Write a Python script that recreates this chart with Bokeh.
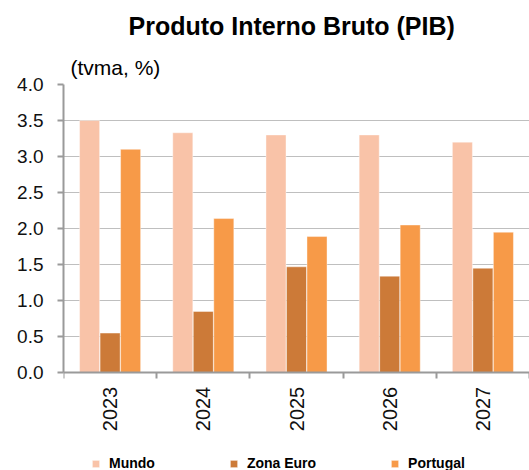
import math
from bokeh.plotting import figure
from bokeh.models import (ColumnDataSource, Range1d, FixedTicker, PrintfTickFormatter,
                          Title, Legend, LegendItem)
from bokeh.core.properties import value
from bokeh.embed import file_html
from bokeh.resources import INLINE

# ---- data ----
years = ["2023", "2024", "2025", "2026", "2027"]
mundo = [3.50, 3.33, 3.30, 3.30, 3.20]
zona_euro = [0.55, 0.85, 1.47, 1.34, 1.45]
portugal = [3.10, 2.14, 1.89, 2.05, 1.95]
series_names = ["Mundo", "Zona Euro", "Portugal"]
colors = ["#F9C3A8", "#CC7A38", "#F79A48"]
y_ticks = [0.0, 0.5, 1.0, 1.5, 2.0, 2.5, 3.0, 3.5, 4.0]
title_text = "Produto Interno Bruto (PIB)"
unit_text = "(tvma, %)"

FONT = "Liberation Sans"
W, H = 529, 470
TOP, LEFT = 83, 63          # frame top / left in px
AXIS_PX = 372               # pixel row of y = 0
Y_MAX = 4.0
px_per_unit = (AXIS_PX - TOP) / Y_MAX
y_start = -(H - AXIS_PX) / px_per_unit   # frame runs to the bottom edge

idx = list(range(len(years)))
bar_w = 0.215
offsets = [-0.22, 0.0, 0.22]

src = ColumnDataSource(dict(
    idx=idx, year=years, zero=[0.0] * len(years),
    x0=[i + offsets[0] for i in idx],
    x1=[i + offsets[1] for i in idx],
    x2=[i + offsets[2] for i in idx],
    mundo=mundo, zona=zona_euro, pt=portugal,
))

p = figure(width=W, height=H, output_backend="svg", toolbar_location=None,
           x_range=Range1d(-0.5, len(years) - 0.5), y_range=Range1d(y_start, Y_MAX),
           x_axis_location="above",
           min_border_left=LEFT, min_border_right=0, min_border_top=TOP, min_border_bottom=0,
           tools="")
p.outline_line_color = None
p.background_fill_color = "white"
p.border_fill_color = "white"

renderers = []
for xcol, ycol, col in zip(["x0", "x1", "x2"], ["mundo", "zona", "pt"], colors):
    r = p.vbar(x=xcol, top=ycol, width=bar_w, source=src, fill_color=col,
               line_color="white", line_width=0.8, line_alpha=0.5)
    renderers.append(r)

# y axis
p.yaxis.bounds = (0, Y_MAX)
p.yaxis.ticker = FixedTicker(ticks=y_ticks)
p.yaxis.formatter = PrintfTickFormatter(format="%.1f")
p.yaxis.axis_line_color = "#9a9a9a"
p.yaxis.axis_line_width = 2
p.yaxis.major_tick_line_color = "#9a9a9a"
p.yaxis.major_tick_line_width = 2
p.yaxis.major_tick_out = 6
p.yaxis.major_tick_in = 0
p.yaxis.minor_tick_line_color = None
p.yaxis.major_label_text_font = FONT
p.yaxis.major_label_text_font_size = "19px"
p.yaxis.major_label_text_color = "#111111"
p.yaxis.major_label_standoff = 14

# x axis: drawn at y = 0, group-boundary ticks pointing down
p.xaxis.fixed_location = 0
p.xaxis.ticker = FixedTicker(ticks=[], minor_ticks=[i - 0.5 for i in idx] + [len(years) - 0.5])
p.xaxis.axis_line_color = "#9a9a9a"
p.xaxis.axis_line_width = 2
p.xaxis.major_tick_line_color = None
p.xaxis.major_tick_out = 0
p.xaxis.major_tick_in = 0
p.xaxis.minor_tick_line_color = "#9a9a9a"
p.xaxis.minor_tick_line_width = 2
p.xaxis.minor_tick_out = 0
p.xaxis.minor_tick_in = 6
p.xaxis.major_label_standoff = 0
p.xaxis.major_label_text_font_size = "0px"

# year labels, rotated, below the axis
p.text(x="idx", y="zero", text="year", source=src, angle=math.pi / 2,
       text_align="right", text_baseline="middle", y_offset=14,
       text_font=value(FONT), text_font_size=value("20px"), text_color="#111111")

# grid
p.xgrid.visible = False
p.ygrid.ticker = FixedTicker(ticks=y_ticks)
p.ygrid.grid_line_color = "#7f7f7f"
p.ygrid.grid_line_dash = "1 1"
p.ygrid.grid_line_width = 1

# titles (first added sits nearest the frame)
p.add_layout(Title(text=unit_text, align="left", offset=7, standoff=11,
                   text_font=FONT, text_font_size="21px", text_font_style="normal",
                   text_color="#000000"), "above")
p.add_layout(Title(text=title_text, align="left", offset=65, standoff=18,
                   text_font=FONT, text_font_size="25px", text_font_style="bold",
                   text_color="#000000"), "above")

legend = Legend(items=[LegendItem(label=n, renderers=[r]) for n, r in zip(series_names, renderers)],
                location=(28, -1), orientation="horizontal", spacing=74,
                glyph_width=9, glyph_height=9, label_standoff=9, label_height=9, label_width=0,
                padding=0, margin=0, border_line_color=None, background_fill_alpha=0,
                label_text_font=FONT, label_text_font_style="bold", label_text_font_size="14px",
                label_text_color="#000000")
p.add_layout(legend, "center")

open("out.html", "w").write(file_html(p, INLINE))
